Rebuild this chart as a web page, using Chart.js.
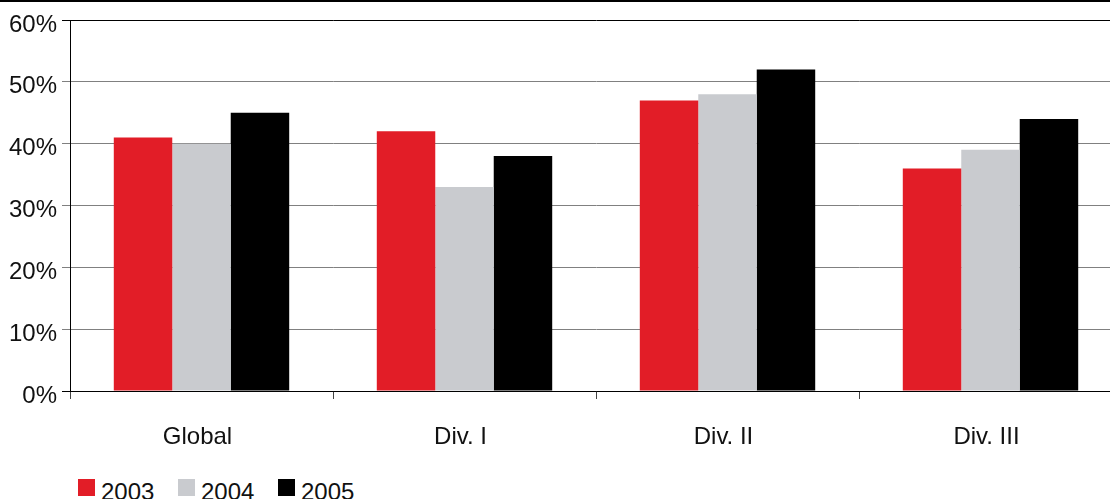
<!DOCTYPE html>
<html>
<head>
<meta charset="utf-8">
<script src="https://cdn.jsdelivr.net/npm/chart.js@4/dist/chart.umd.min.js"></script>
<style>
  html, body { margin: 0; padding: 0; background: #fff; overflow: hidden; width: 1110px; height: 499px; }
  #rule { position: absolute; left: 0; top: 0; width: 1110px; height: 2px; background: #000; }
  #wrap { position: absolute; left: 0; top: 0; width: 1122px; height: 470px; }
  #legend { position: absolute; left: 78px; top: 479px; height: 24px; font: 24px "Liberation Sans", Arial, sans-serif; line-height: 24px; color: #111; white-space: nowrap; }
  #legend .item { position: absolute; top: 0; }
  #legend .box { position: absolute; left: 0; top: 0; width: 17px; height: 17px; }
  #legend .lbl { position: absolute; left: 23px; top: 1px; }
</style>
</head>
<body>
<div id="rule"></div>
<div id="wrap"><canvas id="chart" width="1122" height="470"></canvas></div>
<div id="legend"></div>
<script>
// Categories and yearly shares (percent)
const categories = ['Global', 'Div. I', 'Div. II', 'Div. III'];
const years = ['2003', '2004', '2005'];
const values2003 = [41, 42, 47, 36];
const values2004 = [40, 33, 48, 39];
const values2005 = [45, 38, 52, 44];
const yTicks = [0, 10, 20, 30, 40, 50, 60];

const colors = ['#E21D27', '#C9CBCF', '#000000'];
const series = [values2003, values2004, values2005];
const FONT = '"Liberation Sans", Arial, sans-serif';

const datasets = years.map((y, i) => ({
  label: y,
  data: series[i],
  backgroundColor: colors[i],
  borderWidth: 0,
  barPercentage: 1.0,
  categoryPercentage: 0.667
}));

const gridColor = ctx => (ctx.tick && (ctx.tick.value === 0 || ctx.tick.value === 60)) ? '#000' : '#808080';

new Chart(document.getElementById('chart'), {
  type: 'bar',
  data: { labels: categories, datasets },
  options: {
    responsive: false,
    devicePixelRatio: 1,
    animation: false,
    layout: { padding: { top: 20, right: 0, bottom: 0, left: 0 } },
    plugins: { legend: { display: false }, tooltip: { enabled: false } },
    scales: {
      x: {
        grid: { display: true, drawOnChartArea: false, drawTicks: true, tickLength: 8, color: '#444', lineWidth: 1 },
        border: { display: true, color: '#000', width: 1 },
        ticks: { color: '#111', font: { family: FONT, size: 24 }, padding: 24, labelOffset: -4 },
        afterFit: s => { s.height = 470 - 391; }
      },
      y: {
        min: 0, max: 60,
        afterBuildTicks: s => { s.ticks = yTicks.map(v => ({ value: v })); },
        grid: { color: gridColor, tickColor: gridColor, lineWidth: 1, drawTicks: true, tickLength: 8 },
        border: { display: true, color: '#000', width: 1 },
        ticks: { color: '#111', font: { family: FONT, size: 24 }, padding: 5, labelOffset: 5, callback: v => v + '%' },
        afterFit: s => { s.width = 70; }
      }
    }
  }
});

// Legend entries built from the same series
const legend = document.getElementById('legend');
years.forEach((y, i) => {
  const item = document.createElement('div');
  item.className = 'item';
  item.style.left = (i * 100) + 'px';
  const box = document.createElement('div');
  box.className = 'box';
  box.style.background = colors[i];
  const lbl = document.createElement('span');
  lbl.className = 'lbl';
  lbl.textContent = y;
  item.appendChild(box);
  item.appendChild(lbl);
  legend.appendChild(item);
});
</script>
</body>
</html>
